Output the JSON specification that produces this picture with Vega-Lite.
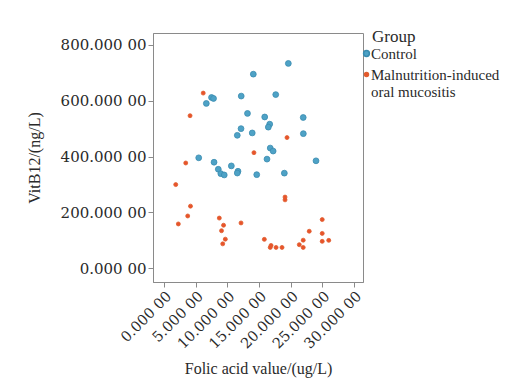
{
  "$schema": "https://vega.github.io/schema/vega-lite/v6.json",
  "width": 210,
  "height": 249,
  "autosize": {"type": "none"},
  "padding": {"left": 153, "top": 33, "right": 143, "bottom": 97},
  "background": "white",
  "config": {
    "view": {"stroke": "#8a8a8a", "strokeWidth": 1},
    "font": "Liberation Serif"
  },
  "data": {
    "values": [
      {"g": "Control", "x": 19.63, "y": 733.9},
      {"g": "Control", "x": 14.10, "y": 695.4},
      {"g": "Control", "x": 7.50, "y": 611.8},
      {"g": "Control", "x": 7.82, "y": 608.2},
      {"g": "Control", "x": 12.19, "y": 616.8},
      {"g": "Control", "x": 17.64, "y": 622.1},
      {"g": "Control", "x": 6.68, "y": 590.4},
      {"g": "Control", "x": 13.18, "y": 554.6},
      {"g": "Control", "x": 15.90, "y": 541.8},
      {"g": "Control", "x": 21.98, "y": 540.0},
      {"g": "Control", "x": 16.69, "y": 516.1},
      {"g": "Control", "x": 16.47, "y": 505.4},
      {"g": "Control", "x": 12.16, "y": 500.0},
      {"g": "Control", "x": 13.93, "y": 484.6},
      {"g": "Control", "x": 11.57, "y": 476.1},
      {"g": "Control", "x": 22.00, "y": 482.1},
      {"g": "Control", "x": 16.77, "y": 430.4},
      {"g": "Control", "x": 17.23, "y": 419.6},
      {"g": "Control", "x": 16.26, "y": 390.7},
      {"g": "Control", "x": 24.00, "y": 384.6},
      {"g": "Control", "x": 5.48, "y": 395.4},
      {"g": "Control", "x": 7.90, "y": 379.6},
      {"g": "Control", "x": 8.57, "y": 354.3},
      {"g": "Control", "x": 10.63, "y": 366.4},
      {"g": "Control", "x": 8.97, "y": 338.6},
      {"g": "Control", "x": 9.51, "y": 333.9},
      {"g": "Control", "x": 11.68, "y": 347.1},
      {"g": "Control", "x": 11.57, "y": 340.7},
      {"g": "Control", "x": 14.64, "y": 335.0},
      {"g": "Control", "x": 19.00, "y": 340.4},
      {"g": "Malnutrition-induced oral mucositis", "x": 6.19, "y": 627.5},
      {"g": "Malnutrition-induced oral mucositis", "x": 4.11, "y": 546.4},
      {"g": "Malnutrition-induced oral mucositis", "x": 14.20, "y": 413.9},
      {"g": "Malnutrition-induced oral mucositis", "x": 3.43, "y": 376.8},
      {"g": "Malnutrition-induced oral mucositis", "x": 19.42, "y": 467.9},
      {"g": "Malnutrition-induced oral mucositis", "x": 1.85, "y": 299.3},
      {"g": "Malnutrition-induced oral mucositis", "x": 19.11, "y": 254.6},
      {"g": "Malnutrition-induced oral mucositis", "x": 19.11, "y": 244.6},
      {"g": "Malnutrition-induced oral mucositis", "x": 4.18, "y": 222.1},
      {"g": "Malnutrition-induced oral mucositis", "x": 3.74, "y": 186.8},
      {"g": "Malnutrition-induced oral mucositis", "x": 2.26, "y": 158.2},
      {"g": "Malnutrition-induced oral mucositis", "x": 8.73, "y": 179.3},
      {"g": "Malnutrition-induced oral mucositis", "x": 9.40, "y": 153.6},
      {"g": "Malnutrition-induced oral mucositis", "x": 12.16, "y": 161.8},
      {"g": "Malnutrition-induced oral mucositis", "x": 9.08, "y": 133.9},
      {"g": "Malnutrition-induced oral mucositis", "x": 9.68, "y": 103.6},
      {"g": "Malnutrition-induced oral mucositis", "x": 9.27, "y": 86.8},
      {"g": "Malnutrition-induced oral mucositis", "x": 24.98, "y": 173.9},
      {"g": "Malnutrition-induced oral mucositis", "x": 22.93, "y": 132.1},
      {"g": "Malnutrition-induced oral mucositis", "x": 24.98, "y": 124.3},
      {"g": "Malnutrition-induced oral mucositis", "x": 15.84, "y": 102.9},
      {"g": "Malnutrition-induced oral mucositis", "x": 21.98, "y": 100.0},
      {"g": "Malnutrition-induced oral mucositis", "x": 24.98, "y": 95.7},
      {"g": "Malnutrition-induced oral mucositis", "x": 26.01, "y": 99.3},
      {"g": "Malnutrition-induced oral mucositis", "x": 16.90, "y": 81.1},
      {"g": "Malnutrition-induced oral mucositis", "x": 16.77, "y": 73.9},
      {"g": "Malnutrition-induced oral mucositis", "x": 17.69, "y": 73.9},
      {"g": "Malnutrition-induced oral mucositis", "x": 18.63, "y": 73.9},
      {"g": "Malnutrition-induced oral mucositis", "x": 21.36, "y": 83.9},
      {"g": "Malnutrition-induced oral mucositis", "x": 21.98, "y": 73.9}
    ]
  },
  "mark": {"type": "point", "filled": true, "opacity": 1, "strokeWidth": 0.8},
  "encoding": {
    "x": {
      "field": "x",
      "type": "quantitative",
      "scale": {"domain": [-1.74, 31.42], "nice": false, "zero": false},
      "axis": {
        "values": [0, 5, 10, 15, 20, 25, 30],
        "labelExpr": "slice(format(datum.value, '.5f'), 0, -2) + ' ' + slice(format(datum.value, '.5f'), -2)",
        "labelAngle": -45,
        "labelOverlap": false,
        "labelFont": "DejaVu Serif",
        "labelFontSize": 14.5,
        "labelColor": "#2a2a2a",
        "labelPadding": 2,
        "title": "Folic acid value/(ug/L)",
        "titleFont": "Liberation Serif",
        "titleFontSize": 16,
        "titleFontWeight": "normal",
        "titleColor": "#2a2a2a",
        "titlePadding": 10,
        "domainColor": "#8a8a8a",
        "tickColor": "#8a8a8a",
        "tickSize": 5,
        "grid": false
      }
    },
    "y": {
      "field": "y",
      "type": "quantitative",
      "scale": {"domain": [-50, 843], "nice": false, "zero": false},
      "axis": {
        "values": [0, 200, 400, 600, 800],
        "labelExpr": "slice(format(datum.value, '.5f'), 0, -2) + ' ' + slice(format(datum.value, '.5f'), -2)",
        "labelFont": "DejaVu Serif",
        "labelFontSize": 15,
        "labelColor": "#2a2a2a",
        "labelPadding": 2,
        "title": "VitB12/(ng/L)",
        "titleFont": "Liberation Serif",
        "titleFontSize": 16,
        "titleFontWeight": "normal",
        "titleColor": "#2a2a2a",
        "titlePadding": 18,
        "domainColor": "#8a8a8a",
        "tickColor": "#8a8a8a",
        "tickSize": 5,
        "grid": false
      }
    },
    "color": {
      "field": "g",
      "type": "nominal",
      "scale": {"domain": ["Control", "Malnutrition-induced oral mucositis"], "range": ["#4ea2c6", "#e8532b"]},
      "legend": {
        "title": "Group",
        "orient": "none",
        "legendX": 219,
        "legendY": -4,
        "padding": 0,
        "titleFont": "Liberation Serif",
        "titleFontSize": 17,
        "titleFontWeight": "normal",
        "titleColor": "#2a2a2a",
        "labelFont": "Liberation Serif",
        "labelFontSize": 15,
        "labelColor": "#2a2a2a",
        "symbolSize": 30,
        "symbolType": "circle",
        "symbolOffset": -13,
        "rowPadding": 5,
        "labelOffset": -3,
        "titlePadding": 0,
        "labelLimit": 300,
        "labelExpr": "datum.label == 'Malnutrition-induced oral mucositis' ? ['Malnutrition-induced', 'oral mucositis'] : datum.label"
      }
    },
    "stroke": {
      "field": "g",
      "type": "nominal",
      "scale": {"domain": ["Control", "Malnutrition-induced oral mucositis"], "range": ["#3a8cb0", "#e06030"]},
      "legend": null
    },
    "size": {
      "field": "g",
      "type": "nominal",
      "scale": {"domain": ["Control", "Malnutrition-induced oral mucositis"], "range": [34, 16]},
      "legend": null
    }
  }
}
